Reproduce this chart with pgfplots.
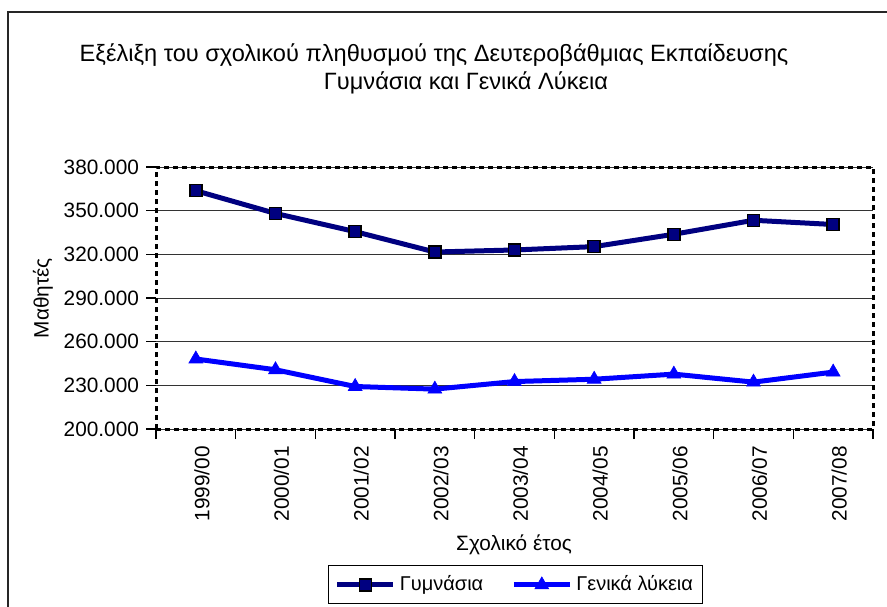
\documentclass[border=0pt]{standalone}
\usepackage{fontspec}
\setmainfont{Liberation Sans}
\usepackage{pgfplots}
\pgfplotsset{compat=1.18}
\definecolor{navyc}{RGB}{0,0,128}
\definecolor{bluec}{RGB}{0,0,255}
\begin{document}
\begin{tikzpicture}[x=0.5pt,y=0.5pt]
\useasboundingbox (0,0) rectangle (887,606);
\draw[line width=1pt,black!85] (8,-10) -- (8,594) -- (900,594);
\node[font=\fontsize{11.8pt}{13pt}\selectfont] at (434,551) {Εξέλιξη του σχολικού πληθυσμού της Δευτεροβάθμιας Εκπαίδευσης};
\node[font=\fontsize{11.8pt}{13pt}\selectfont] at (466,523) {Γυμνάσια και Γενικά Λύκεια};
\node[rotate=90,font=\fontsize{10.4pt}{12pt}\selectfont] at (43,308) {Μαθητές};
\node[font=\fontsize{10.4pt}{12pt}\selectfont] at (514,61) {Σχολικό έτος};
\begin{axis}[
  at={(78pt,88.5pt)}, anchor=south west,
  scale only axis, width=358.5pt, height=131pt,
  font=\fontsize{10.4pt}{12pt}\selectfont,
  xmin=-0.5, xmax=8.5, ymin=200000, ymax=380000,
  ytick={200000,230000,...,380000},
  scaled y ticks=false,
  yticklabel style={/pgf/number format/.cd, fixed, precision=0, 1000 sep={.}, assume math mode=true},
  xtick={0,...,8},
  xticklabels={1999/00,2000/01,2001/02,2002/03,2003/04,2004/05,2005/06,2006/07,2007/08},
  xticklabel style={rotate=90, anchor=east, yshift=-3pt},
  minor xtick={-0.5,0.5,...,8.5},
  major x tick style={draw=none},
  tick align=outside, tick pos=left,
  major tick length=5pt, minor tick length=5pt,
  tick style={solid, black, line width=0.6pt},
  ymajorgrids, grid style={black!80, line width=0.5pt, solid},
  axis line style={black, line width=1.5pt, dash pattern=on 2.5pt off 2pt},
  clip=false,
  legend columns=2,
  legend style={at={(0.502,-0.595)}, anchor=center, draw=black, line width=0.5pt, solid,
     font=\fontsize{10pt}{12pt}\selectfont, inner sep=3pt,
     /tikz/every even column/.append style={column sep=12pt}},
  legend image code/.code={\draw[mark repeat=2,mark phase=2,#1] plot coordinates {(0pt,0pt) (14pt,0pt) (28pt,0pt)};},
]
\addplot[color=navyc, line width=2.5pt, mark=square*, mark size=3pt,
  mark options={fill=navyc, draw=black, line width=0.7pt, solid}]
  coordinates {(0,363700) (1,348100) (2,335600) (3,321600) (4,323000) (5,325300) (6,333800) (7,343400) (8,340500)};
\addlegendentry{Γυμνάσια}
\addplot[color=bluec, line width=2.5pt, mark=triangle*, mark size=4pt,
  mark options={fill=bluec, draw=bluec, line width=0.3pt, solid}]
  coordinates {(0,248100) (1,240700) (2,229200) (3,227400) (4,232600) (5,234200) (6,237700) (7,232200) (8,239100)};
\addlegendentry{Γενικά λύκεια}
\end{axis}
\end{tikzpicture}
\end{document}
